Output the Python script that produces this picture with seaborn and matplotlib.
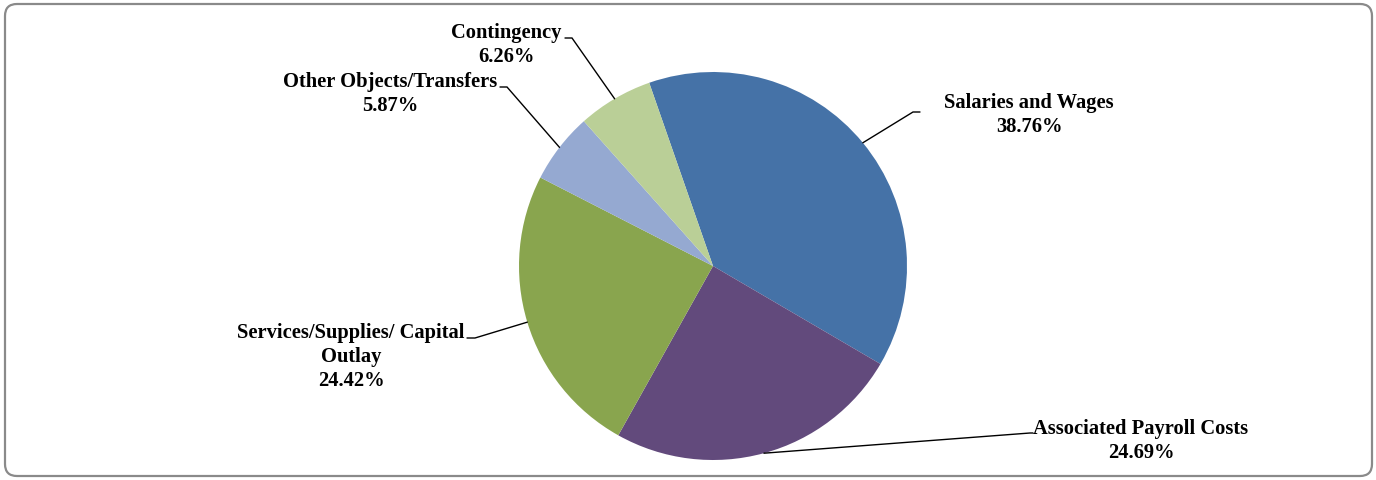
import numpy as np
import matplotlib
matplotlib.use("Agg")
import matplotlib.pyplot as plt
from matplotlib.patches import FancyBboxPatch
import seaborn as sns

categories = ["Salaries and Wages", "Associated Payroll Costs",
              "Services/Supplies/ Capital\nOutlay", "Other Objects/Transfers",
              "Contingency"]
shares = [38.76, 24.69, 24.42, 5.87, 6.26]
colors = ["#4572A7", "#624A7C", "#89A54E", "#95A9D1", "#BACF97"]

sns.set_theme(style="white")
plt.rcParams["font.family"] = ["Liberation Serif", "DejaVu Serif"]

W, H = 1376, 480
fig = plt.figure(figsize=(W / 100, H / 100), dpi=100)
ax = fig.add_axes([0, 0, 1, 1])

cx, cy, r = 713, H - 266, 194
start = 109.2
wedges, _ = ax.pie(shares, colors=colors, startangle=start, counterclock=False,
                   center=(cx, cy), radius=r, frame=True,
                   wedgeprops=dict(linewidth=0))
ax.set_xlim(0, W)
ax.set_ylim(0, H)
ax.set_aspect("equal")
ax.axis("off")

# rounded outer frame
frame = FancyBboxPatch((5, 4), W - 9, H - 8,
                       boxstyle="round,pad=0,rounding_size=12",
                       fill=False, edgecolor="#8a8a8a", linewidth=1.6)
ax.add_patch(frame)

# label placement: (text center x, text center y, elbow x, elbow y, elbow end x)
layout = [
    (1029, H - 115, 913, H - 112, 920),
    (1141, H - 441, 1030, H - 433, 1033),
    (351, H - 357, 475, H - 338, 467),
    (390, H - 94, 507, H - 87, 500),
    (506, H - 45, 572, H - 38, 565),
]

for w, cat, val, (tx, ty, ex, ey, hx) in zip(wedges, categories, shares, layout):
    mid = np.deg2rad((w.theta1 + w.theta2) / 2)
    px, py = cx + r * np.cos(mid), cy + r * np.sin(mid)
    ax.plot([px, ex, hx], [py, ey, ey], color="black", linewidth=1.0,
            solid_joinstyle="miter")
    ax.text(tx, ty, f"{cat}\n{val:.2f}%", ha="center", va="center",
            fontsize=14.8, fontweight="bold", color="black", linespacing=1.25)

fig.savefig("out.png", dpi=100, facecolor="white")
